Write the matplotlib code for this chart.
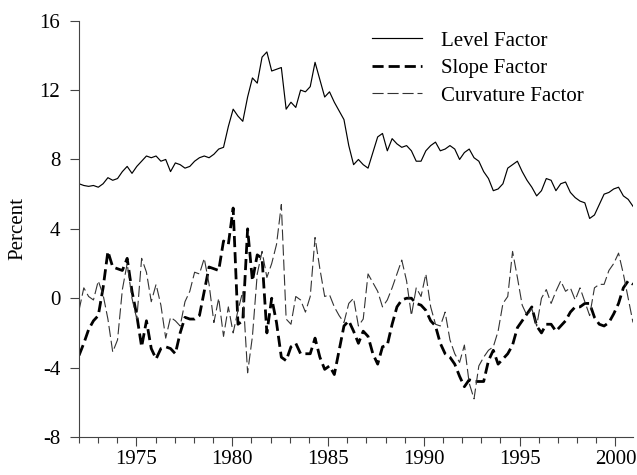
import numpy as np
import matplotlib
matplotlib.use('Agg')
import matplotlib.pyplot as plt

# quarterly readings, 1972Q1 .. 2000Q4 (one row per year)
level = [
    6.6, 6.5, 6.45, 6.5,
    6.4, 6.6, 6.95, 6.8,
    6.9, 7.3, 7.6, 7.2,
    7.6, 7.9, 8.2, 8.1,
    8.2, 7.9, 8.0, 7.3,
    7.8, 7.7, 7.5, 7.6,
    7.9, 8.1, 8.2, 8.1,
    8.3, 8.6, 8.7, 9.9,
    10.9, 10.5, 10.2, 11.6,
    12.7, 12.4, 13.9, 14.2,
    13.1, 13.2, 13.3, 10.9,
    11.3, 11.0, 12.0, 11.9,
    12.2, 13.6, 12.6, 11.6,
    11.9, 11.3, 10.8, 10.3,
    8.8, 7.7, 8.0, 7.7,
    7.5, 8.4, 9.3, 9.5,
    8.5, 9.2, 8.9, 8.7,
    8.8, 8.5, 7.9, 7.9,
    8.5, 8.8, 9.0, 8.5,
    8.6, 8.8, 8.6, 8.0,
    8.4, 8.6, 8.1, 7.9,
    7.3, 6.9, 6.2, 6.3,
    6.6, 7.5, 7.7, 7.9,
    7.3, 6.8, 6.4, 5.9,
    6.2, 6.9, 6.8, 6.2,
    6.6, 6.7, 6.1, 5.8,
    5.6, 5.5, 4.6, 4.8,
    5.4, 6.0, 6.1, 6.3,
    6.4, 5.9, 5.7, 5.3,
]

slope = [
    -3.3, -2.6, -1.8, -1.3,
    -1.0, 0.6, 2.7, 1.8,
    1.7, 1.6, 2.3, 0.4,
    -1.0, -2.8, -1.3, -2.9,
    -3.5, -2.9, -2.8, -2.9,
    -3.2, -2.0, -1.1, -1.2,
    -1.2, -1.0, 0.4, 1.8,
    1.7, 1.6, 3.3, 3.1,
    5.2, -1.5, -1.3, 4.0,
    1.0, 2.5, 2.3, -2.0,
    0.0, -1.4, -3.4, -3.6,
    -2.8, -2.6, -3.2, -3.2,
    -3.2, -2.3, -3.4, -4.1,
    -3.9, -4.4, -3.0, -1.6,
    -1.3, -1.9, -2.6, -1.9,
    -2.2, -3.2, -3.8, -2.8,
    -2.7, -1.5, -0.5, -0.1,
    0.0, 0.0, -0.3, -0.4,
    -0.7, -1.3, -1.6, -2.6,
    -3.2, -3.4, -3.8, -4.5,
    -5.1, -4.7, -4.8, -4.8,
    -4.8, -3.6, -3.0, -3.8,
    -3.5, -3.2, -2.7, -1.7,
    -1.3, -0.9, -0.5, -1.6,
    -2.0, -1.5, -1.5, -1.9,
    -1.6, -1.3, -0.8, -0.5,
    -0.5, -0.3, -0.3, -1.1,
    -1.5, -1.6, -1.4, -0.9,
    -0.3, 0.6, 1.0, 0.8,
]

curvature = [
    -0.7, 0.6, 0.1, -0.1,
    1.0, 0.2, -1.2, -3.1,
    -2.4, 0.5, 2.0, 0.0,
    -1.2, 2.3, 1.5, -0.2,
    0.8, -0.4, -2.3, -1.1,
    -1.3, -1.6, -0.2, 0.4,
    1.5, 1.4, 2.3, 0.8,
    -1.4, 0.0, -2.2, -0.5,
    -2.0, -0.7, 0.4, -4.3,
    -2.2, 1.4, 2.7, 1.2,
    2.0, 3.1, 5.4, -1.2,
    -1.5, 0.1, -0.1, -0.8,
    0.1, 3.5, 1.7, 0.1,
    0.2, -0.5, -1.0, -1.4,
    -0.3, 0.0, -1.6, -1.2,
    1.4, 0.9, 0.4, -0.5,
    -0.1, 0.6, 1.4, 2.2,
    1.0, -1.0, 0.6, 0.1,
    1.4, -0.5, -1.5, -1.6,
    -0.8, -2.4, -3.2, -3.7,
    -2.7, -4.9, -5.8, -3.9,
    -3.4, -3.0, -2.8, -1.9,
    -0.3, 0.1, 2.7, 1.2,
    -0.4, -1.0, -0.6, -1.6,
    0.0, 0.5, -0.3, 0.4,
    1.0, 0.4, 0.6, -0.1,
    0.6, -0.2, -1.0, 0.6,
    0.8, 0.8, 1.6, 2.0,
    2.6, 1.4, 0.0, -1.4,
]

start_year = 1972.0
end_year = 2000.917
year_ticks = [1975, 1980, 1985, 1990, 1995, 2000]
y_ticks = [-8, -4, 0, 4, 8, 12, 16]

t = np.linspace(start_year, end_year, len(level))

plt.rcParams['font.family'] = ['Liberation Serif', 'DejaVu Serif']
plt.rcParams['axes.unicode_minus'] = False
fs = 15

fig = plt.figure(figsize=(6.37, 4.75), dpi=100)
ax = fig.add_axes([79 / 637, 1 - 437 / 475, (633 - 79) / 637, (437 - 20.7) / 475])

ax.plot(t, level, color='black', lw=0.85, label='Level Factor')
ax.plot(t, slope, color='black', lw=2.0, dashes=(4, 1.8), label='Slope Factor')
ax.plot(t, curvature, color='#333333', lw=0.8, dashes=(10, 3.5), label='Curvature Factor')

ax.set_xlim(start_year, end_year)
ax.set_ylim(-8, 16)
ax.set_xticks(year_ticks)
ax.set_xticks(np.arange(1972, 2001), minor=True)
ax.set_yticks(y_ticks)
ax.tick_params(axis='both', which='major', labelsize=fs, length=6.5, width=0.8,
               color='#444444', direction='out')
ax.tick_params(axis='x', which='major', pad=3)
ax.tick_params(axis='y', which='major', pad=7)
ax.tick_params(axis='x', which='minor', length=4, width=0.8, color='#444444')

for side in ['top', 'right']:
    ax.spines[side].set_visible(False)
for side in ['left', 'bottom']:
    ax.spines[side].set_color('#444444')
    ax.spines[side].set_linewidth(0.8)

ax.set_ylabel('Percent', fontsize=fs, labelpad=9)

leg = ax.legend(loc='upper left', bbox_to_anchor=(372 / 637, 1 - 31 / 475),
                bbox_transform=fig.transFigure, frameon=False, fontsize=fs,
                borderpad=0, borderaxespad=0, handlelength=2.4,
                handletextpad=0.9, labelspacing=0.38)

fig.savefig('out.png', dpi=100)
